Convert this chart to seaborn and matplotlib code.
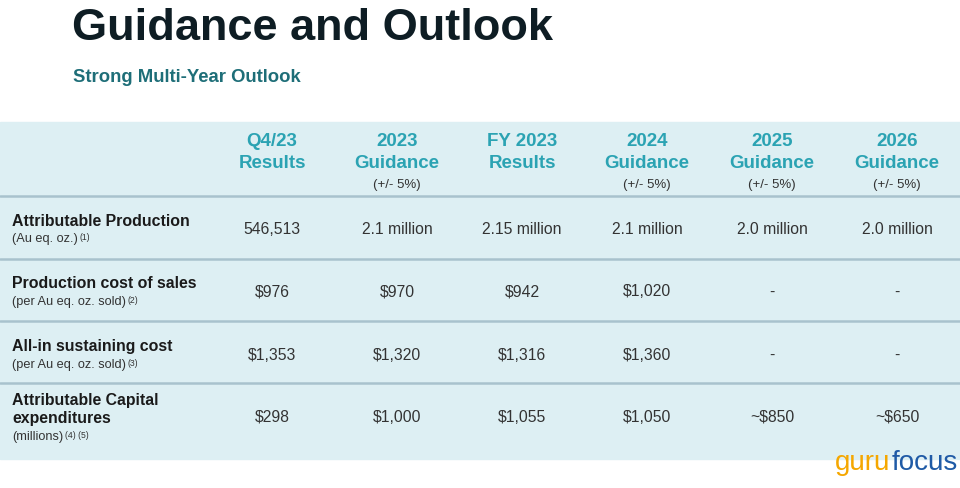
import matplotlib.pyplot as plt
import seaborn as sns

# Table contents
col_top = ["Q4/23", "2023", "FY 2023", "2024", "2025", "2026"]
col_bottom = ["Results", "Guidance", "Results", "Guidance", "Guidance", "Guidance"]
col_note = ["", "(+/- 5%)", "", "(+/- 5%)", "(+/- 5%)", "(+/- 5%)"]

row_titles = [
    ["Attributable Production"],
    ["Production cost of sales"],
    ["All-in sustaining cost"],
    ["Attributable Capital", "expenditures"],
]
row_notes = ["(Au eq. oz.)", "(per Au eq. oz. sold)", "(per Au eq. oz. sold)", "(millions)"]
row_refs = ["(1)", "(2)", "(3)", "(4) (5)"]

production = ["546,513", "2.1 million", "2.15 million", "2.1 million", "2.0 million", "2.0 million"]
cost_of_sales = ["$976", "$970", "$942", "$1,020", "-", "-"]
aisc = ["$1,353", "$1,320", "$1,316", "$1,360", "-", "-"]
capex = ["$298", "$1,000", "$1,055", "$1,050", "~$850", "~$650"]
rows = [production, cost_of_sales, aisc, capex]

sns.set_theme(style="white")
plt.rcParams["font.family"] = ["Liberation Sans", "DejaVu Sans"]

fig = plt.figure(figsize=(9.6, 4.89), dpi=100)
ax = fig.add_axes([0, 0, 1, 1])
ax.set_xlim(0, 960)
ax.set_ylim(489, 0)
ax.axis("off")

bg = "#ddeff3"
line_c = "#a8c2cd"
teal = "#2ba3b3"
dark = "#333333"

# table background and separators
ax.axhspan(123, 460, color=bg, zorder=0)
for y in [197, 260, 322, 384]:
    ax.axhline(y, color=line_c, lw=1.8, zorder=1)

# titles
ax.text(72, 28, "Guidance and Outlook", fontsize=32.5, fontweight="bold",
        color="#0e1d24", va="center", ha="left")
ax.text(73, 78, "Strong Multi-Year Outlook", fontsize=13.3, fontweight="bold",
        color="#1e6e78", va="center", ha="left")

# column headers
col_x = [272 + 125 * i for i in range(len(col_top))]
for x, t, b, n in zip(col_x, col_top, col_bottom, col_note):
    ax.text(x, 142, t, fontsize=13.5, fontweight="bold", color=teal, ha="center", va="center")
    ax.text(x, 164, b, fontsize=13.5, fontweight="bold", color=teal, ha="center", va="center")
    if n:
        ax.text(x, 185, n, fontsize=9.5, color=dark, ha="center", va="center")

# rows
row_y = [229, 292, 355, 417]
for titles, note, ref, vals, yc in zip(row_titles, row_notes, row_refs, rows, row_y):
    if len(titles) == 1:
        ys = [yc - 8]
        ny = yc + 10
    else:
        ys = [yc - 17, yc + 2]
        ny = yc + 20
    for t, y in zip(titles, ys):
        ax.text(12, y, t, fontsize=11.4, fontweight="bold", color="#1a1a1a", ha="left", va="center")
    nt = ax.text(12, ny, note, fontsize=9.2, color=dark, ha="left", va="center")
    ax.annotate(ref, xy=(1.0, 1.0), xycoords=nt, xytext=(1, 0), textcoords="offset points",
                fontsize=6.2, color=dark, ha="left", va="top")
    for x, v in zip(col_x, vals):
        ax.text(x, yc, v, fontsize=11.3, color=dark, ha="center", va="center")

# watermark
g = ax.text(835, 463, "guru", fontsize=20, color="#f5a700", ha="left", va="center")
ax.annotate("focus", xy=(1.0, 0.5), xycoords=g, xytext=(1, 0), textcoords="offset points",
            fontsize=20, color="#1f5aa6", ha="left", va="center")

fig.savefig("out.png", dpi=100)
